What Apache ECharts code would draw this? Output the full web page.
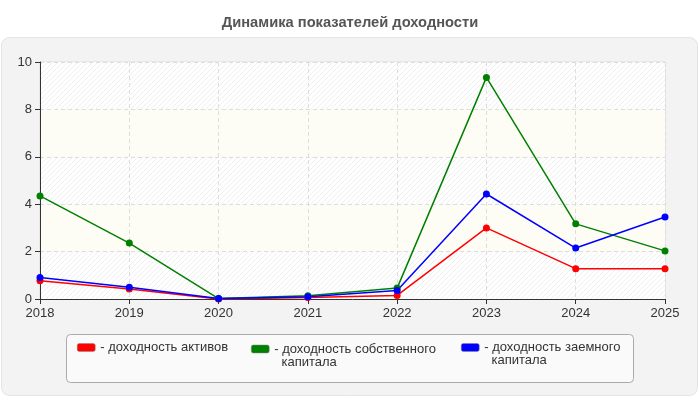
<!DOCTYPE html>
<html>
<head>
<meta charset="utf-8">
<script src="https://cdn.jsdelivr.net/npm/echarts@6/dist/echarts.min.js"></script>
<style>
    html, body { margin: 0; padding: 0; background: #ffffff; }
    #chart { width: 700px; height: 400px; }
</style>
</head>
<body>
<div id="chart"></div>
<script>
const years = ['2018', '2019', '2020', '2021', '2022', '2023', '2024', '2025'];
const assets_return = [0.77, 0.42, 0.0, 0.06, 0.15, 3.0, 1.28, 1.28];
const equity_return = [4.35, 2.36, 0.02, 0.14, 0.46, 9.35, 3.17, 2.03];
const debt_return = [0.91, 0.5, 0.02, 0.1, 0.36, 4.43, 2.15, 3.46];
const series_names = [
    '- доходность активов',
    '- доходность собственного\n  капитала',
    '- доходность заемного\n  капитала'
];
const series_colors = ['#ff0000', '#008000', '#0000ff'];

const font = '"Liberation Sans", Arial, sans-serif';

// light diagonal hatch for the plot bands
function hatch() {
    const c = document.createElement('canvas');
    c.width = 5;
    c.height = 5;
    const ctx = c.getContext('2d');
    ctx.fillStyle = '#ffffff';
    ctx.fillRect(0, 0, 5, 5);
    ctx.strokeStyle = '#efefef';
    ctx.lineWidth = 1;
    ctx.beginPath();
    ctx.moveTo(0, 5);
    ctx.lineTo(5, 0);
    ctx.moveTo(-2.5, 2.5);
    ctx.lineTo(2.5, -2.5);
    ctx.moveTo(2.5, 7.5);
    ctx.lineTo(7.5, 2.5);
    ctx.stroke();
    return {image: c, repeat: 'repeat'};
}

function line_item(name, data, color) {
    return {
        type: 'line',
        name: name,
        data: data,
        symbol: 'circle',
        symbolSize: 7,
        lineStyle: {color: color, width: 1.5},
        itemStyle: {color: color},
        animation: false
    };
}

// the legend centres its text on the icon, so a leading empty line
// keeps the first line of a two-line label level with the icon
function legend_item(name, color, left, icon_top) {
    const two_lines = name.indexOf('\n') >= 0;
    return {
        left: left,
        top: icon_top - (two_lines ? 15.5 : 2.5),
        padding: 0,
        itemWidth: 18,
        itemHeight: 8,
        icon: 'roundRect',
        data: [{
            name: name,
            itemStyle: {color: color, borderColor: '#888', borderWidth: 0.5}
        }],
        formatter: function (n) {
            return n.indexOf('\n') >= 0 ? '\n' + n : n;
        },
        itemGap: 0,
        textStyle: {fontFamily: font, fontSize: 13, color: '#333', lineHeight: 13},
        selectedMode: false
    };
}

const chart = echarts.init(document.getElementById('chart'));
chart.setOption({
    backgroundColor: '#ffffff',
    title: {
        text: 'Динамика показателей доходности',
        left: 'center',
        top: 15,
        padding: 0,
        textStyle: {fontFamily: font, fontSize: 14.7, fontWeight: 'bold', color: '#555'}
    },
    graphic: [{
        type: 'rect',
        z: -10,
        shape: {x: 1.5, y: 37.5, width: 696, height: 358, r: 8},
        style: {fill: '#f3f3f3', stroke: '#e4e4e4', lineWidth: 1}
    }, {
        type: 'rect',
        z: -5,
        shape: {x: 66.5, y: 334.5, width: 567, height: 48, r: 4},
        style: {fill: '#fafafa', stroke: '#aaaaaa', lineWidth: 1}
    }],
    legend: [
        legend_item(series_names[0], series_colors[0], 77, 343.5),
        legend_item(series_names[1], series_colors[1], 251, 345),
        legend_item(series_names[2], series_colors[2], 461, 343.5)
    ],
    grid: {
        left: 40,
        right: 35,
        top: 62,
        bottom: 101,
        show: true,
        backgroundColor: 'transparent',
        borderColor: '#dddddd',
        borderWidth: 1
    },
    xAxis: {
        type: 'category',
        data: years,
        boundaryGap: false,
        axisLine: {lineStyle: {color: '#333', width: 1}},
        axisTick: {show: true, length: 5, lineStyle: {color: '#333'}},
        axisLabel: {fontFamily: font, fontSize: 13, color: '#333', margin: 8},
        splitLine: {show: true, lineStyle: {color: '#dddddd', type: [4, 3]}}
    },
    yAxis: {
        type: 'value',
        min: 0,
        max: 10,
        interval: 2,
        axisLine: {show: true, lineStyle: {color: '#333', width: 1}},
        axisTick: {show: true, length: 5, lineStyle: {color: '#333'}},
        axisLabel: {fontFamily: font, fontSize: 13, color: '#333', margin: 8},
        splitLine: {show: true, lineStyle: {color: '#dddddd', type: [4, 3]}},
        splitArea: {show: true, areaStyle: {color: [hatch(), '#fdfdf6']}}
    },
    series: [
        line_item(series_names[0], assets_return, series_colors[0]),
        line_item(series_names[1], equity_return, series_colors[1]),
        line_item(series_names[2], debt_return, series_colors[2])
    ]
});
</script>
</body>
</html>
